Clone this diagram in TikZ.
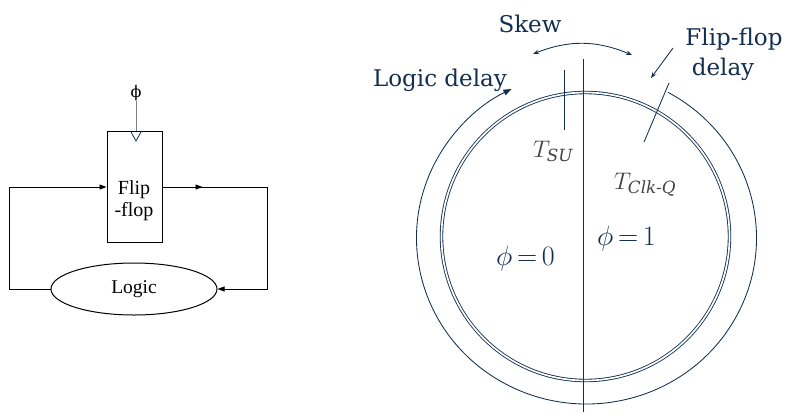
\documentclass[tikz,border=0pt]{standalone}
\usepackage{fix-cm}
\usepackage{amsmath}
\usepackage[no-math]{fontspec}
\setmainfont{DejaVu Serif}
\newfontfamily\timesfont{Liberation Serif}
\usetikzlibrary{arrows.meta,positioning,shapes.geometric,calc,decorations.markings}
\definecolor{ringnavy}{RGB}{18,46,80}
\definecolor{labelgray}{RGB}{68,68,68}
\tikzset{
  wire/.style={line width=0.9pt, black},
  ffarrow/.style={-{Triangle[length=7pt,width=5pt]}},
  midarrow/.style={postaction={decorate},
              decoration={markings, mark=at position 40pt with {\arrow{Triangle[length=7pt,width=5pt]}}}},
  ffbox/.style={rectangle, draw, line width=1pt, minimum width=55pt, minimum height=111pt},
  logicbox/.style={ellipse, draw, line width=1pt, minimum width=166pt, minimum height=52pt,
              inner sep=0pt, font=\timesfont\fontsize{19.5}{22}\selectfont},
  smalltext/.style={font=\timesfont\fontsize{20}{22}\selectfont, align=center, inner sep=0pt},
  ringline/.style={ringnavy, line width=0.85pt},
  bigtext/.style={font=\fontsize{23}{26}\selectfont, text=ringnavy, inner sep=0pt},
  timetext/.style={font=\fontsize{24}{26}\selectfont, text=labelgray, inner sep=0pt},
  phasetext/.style={font=\fontsize{28}{30}\selectfont, text=ringnavy, inner sep=0pt},
}
\begin{document}
\begin{tikzpicture}[x=1pt, y=-1pt]
    \useasboundingbox (0,0) rectangle (790,413);

    % flip-flop loop
    \node[ffbox] (ff) at (134.5,187) {};
    \node[smalltext] (fflabel) at (134,201) {Flip\\-flop};
    \node[font=\fontsize{16}{18}\selectfont, inner sep=0pt, above=30pt of ff.north, xshift=1.5pt] (phi) {ϕ};
    \node[logicbox] (logic) at (134,289) {Logic};

    % clock input
    \draw[line width=0.9pt, gray] (phi.south) -- (phi.south |- ff.north);
    \draw[ringnavy, line width=0.8pt] ($(phi.south |- ff.north)+(-5.5,0)$) -- ++(5.5,10) -- ++(5.5,-10);

    % feedback wires
    \draw[wire, ffarrow] (logic.west) -- ++(-41,0) |- (ff.west);
    \draw[wire, ffarrow, midarrow] (ff.east) -- ++(105,0) |- (logic.east);

    % clock cycle rings
    \draw[ringnavy, line width=0.85pt, double=white, double distance=1.7pt]
          (585.5,236.5) circle[radius=144];
    \draw[ringline, -{Triangle[length=8pt,width=6pt]}]
          (586.5,238) ++(-61.4:170 and 166) arc[start angle=-61.4, end angle=243.8, x radius=170, y radius=166];
    \draw[ringline] (583,59) -- (583,412);

    % ticks
    \draw[ringline] (564,70) -- (564,130);
    \draw[ringline] (669,83) -- (644,142);

    % skew and delay arrows
    \draw[ringline, {Stealth[length=6pt]}-{Stealth[length=6pt]}] (533,54) to[bend left=22] (632,55);
    \draw[ringline, -{Stealth[length=6pt]}] (673,48) -- (651,78);

    % labels
    \node[bigtext, anchor=base] (skew) at (530,32) {Skew};
    \node[bigtext, anchor=base] (logicdelay) at (440,86) {Logic delay};
    \node[bigtext, anchor=base] (ffdelay) at (734,45) {Flip-flop};
    \node[bigtext, anchor=base] (ffdelay2) at (723,75) {delay};
    \node[timetext, anchor=base west] (tsu) at (533,157) {$T_{\text{\itshape SU}}$};
    \node[timetext, anchor=base west] (tclkq) at (614,189) {$T_{\text{\itshape Clk-Q}}$};
    \node[phasetext, anchor=base west] (low) at (496,265) {$\phi\,{=}\,0$};
    \node[phasetext, anchor=base west] (high) at (597,245) {$\phi\,{=}\,1$};
\end{tikzpicture}
\end{document}
